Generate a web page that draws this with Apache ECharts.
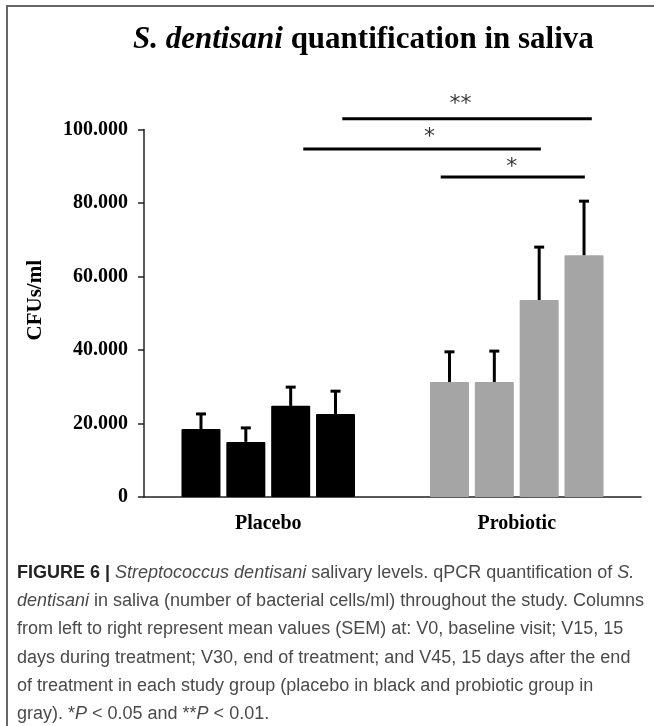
<!DOCTYPE html>
<html>
<head>
<meta charset="utf-8">
<script src="https://cdn.jsdelivr.net/npm/echarts@6/dist/echarts.min.js"></script>
<style>
  html, body { margin: 0; padding: 0; background: #fff; }
  #chart { width: 654px; height: 726px; }
</style>
</head>
<body>
<div id="chart"></div>
<script>
// data
const groups = ['Placebo', 'Probiotic'];
const visits = ['V0', 'V15', 'V30', 'V45'];
const placeboMean = [18500, 15000, 24800, 22600];
const placeboSem = [4100, 3800, 5100, 6200];
const probioticMean = [31300, 31300, 53600, 65800];
const probioticSem = [8200, 8400, 14400, 14700];
const yTicks = [0, 20000, 40000, 60000, 80000, 100000];

// significance brackets, x in category units (0..2), y in CFUs/ml
const sigLines = [
  { from: 0.798, to: 1.802, y: 102900 },
  { from: 0.641, to: 1.597, y: 94700 },
  { from: 1.194, to: 1.774, y: 87100 }
];
const sigStars = [
  { x: 1.274, y: 106900, text: '**' },
  { x: 1.149, y: 98000, text: '*' },
  { x: 1.480, y: 89800, text: '*' }
];

const captionLines = [
  '{b|FIGURE 6 |} {i|Streptococcus dentisani} salivary levels. qPCR quantification of {i|S.}',
  '{i|dentisani} in saliva (number of bacterial cells/ml) throughout the study. Columns',
  'from left to right represent mean values (SEM) at: V0, baseline visit; V15, 15',
  'days during treatment; V30, end of treatment; and V45, 15 days after the end',
  'of treatment in each study group (placebo in black and probiotic group in',
  'gray). *{i|P} < 0.05 and **{i|P} < 0.01.'
];

const myChart = echarts.init(document.getElementById('chart'));

const serif = '"Liberation Serif", "Times New Roman", serif';
const sans = '"Liberation Sans", Arial, sans-serif';
const barColors = ['#000000', '#a5a5a5'];

function fmt(v) {
  return String(v).replace(/\B(?=(\d{3})+(?!\d))/g, '.');
}

const series = [];
visits.forEach(function (v, i) {
  series.push({
    name: v,
    type: 'bar',
    barWidth: 39,
    barGap: '15%',
    data: [placeboMean[i], probioticMean[i]].map(function (val, g) {
      return { value: val, itemStyle: { color: barColors[g] } };
    }),
    itemStyle: { borderRadius: 1 },
    silent: true
  });
});

// error bars (upper only, with cap)
visits.forEach(function (v, i) {
  series.push({
    type: 'custom',
    name: v + ' SEM',
    data: [[0, placeboMean[i], placeboSem[i]], [1, probioticMean[i], probioticSem[i]]],
    z: 5,
    silent: true,
    renderItem: function (params, api) {
      const cat = api.value(0);
      const mean = api.value(1);
      const sem = api.value(2);
      const band = api.size([1, 0])[0];
      const layout = api.barLayout({ count: visits.length, barWidth: 39, barGap: '15%', bandWidth: band });
      const off = layout[i].offsetCenter;
      const p0 = api.coord([cat, mean]);
      const p1 = api.coord([cat, mean + sem]);
      const x = p0[0] + off;
      return {
        type: 'group',
        children: [
          { type: 'line', shape: { x1: x, y1: p0[1], x2: x, y2: p1[1] }, style: { stroke: '#000', lineWidth: 3 } },
          { type: 'line', shape: { x1: x - 5, y1: p1[1], x2: x + 5, y2: p1[1] }, style: { stroke: '#000', lineWidth: 3 } }
        ]
      };
    }
  });
});

sigLines.forEach(function (s) {
  series.push({
    type: 'line',
    xAxisIndex: 1,
    data: [[s.from, s.y], [s.to, s.y]],
    symbol: 'none',
    clip: false,
    silent: true,
    lineStyle: { color: '#000', width: 3 }
  });
});

series.push({
  type: 'scatter',
  xAxisIndex: 1,
  symbolSize: 0,
  clip: false,
  silent: true,
  data: sigStars.map(function (s) { return { value: [s.x, s.y], name: s.text }; }),
  label: {
    show: true,
    position: 'inside',
    formatter: '{b}',
    color: '#000',
    fontFamily: '"DejaVu Sans", sans-serif',
    fontSize: 22
  }
});

const graphics = [
  { type: 'line', shape: { x1: 7, y1: 6, x2: 7, y2: 726 }, style: { stroke: '#666', lineWidth: 2 } },
  { type: 'line', shape: { x1: 6, y1: 6, x2: 654, y2: 6 }, style: { stroke: '#666', lineWidth: 2 } },
  {
    type: 'text',
    x: 133, y: 40,
    style: {
      text: '{i|S. dentisani} quantification in saliva',
      font: 'bold 31px ' + serif,
      fill: '#000',
      textAlign: 'left',
      textVerticalAlign: 'middle',
      rich: {
        i: { fontStyle: 'italic', fontWeight: 'bold', fontSize: 31, fontFamily: serif, fill: '#000' }
      }
    }
  }
];

captionLines.forEach(function (line, k) {
  graphics.push({
    type: 'text',
    x: 17, y: 573 + k * 28.2,
    style: {
      text: line,
      font: '18px ' + sans,
      fill: '#4a4a4a',
      textAlign: 'left',
      textVerticalAlign: 'middle',
      rich: {
        b: { fontWeight: 'bold', fontSize: 18, fontFamily: sans, fill: '#222' },
        i: { fontStyle: 'italic', fontSize: 18, fontFamily: sans, fill: '#4a4a4a' }
      }
    }
  });
});

const option = {
  animation: false,
  backgroundColor: '#fff',
  grid: { left: 144, right: 13, top: 129.5, bottom: 229 },
  xAxis: [
    {
      type: 'category',
      data: groups,
      axisLine: { lineStyle: { color: '#222', width: 1.5 } },
      axisTick: { length: 6, lineStyle: { color: '#222', width: 1.5 } },
      axisLabel: { margin: 17, color: '#000', fontFamily: serif, fontWeight: 'bold', fontSize: 20 }
    },
    { type: 'value', min: 0, max: 2, show: false }
  ],
  yAxis: {
    type: 'value',
    min: 0,
    max: 100000,
    interval: 20000,
    name: 'CFUs/ml',
    nameLocation: 'middle',
    nameGap: 98,
    nameTextStyle: { color: '#000', fontFamily: serif, fontWeight: 'bold', fontSize: 21, padding: [0, 0, 0, 26] },
    axisLine: { show: true, lineStyle: { color: '#222', width: 1.5 } },
    axisTick: { show: true, length: 6, lineStyle: { color: '#222', width: 1.5 } },
    splitLine: { show: false },
    axisLabel: {
      margin: 16,
      color: '#000',
      fontFamily: serif,
      fontWeight: 'bold',
      fontSize: 20,
      formatter: function (v) { return yTicks.indexOf(v) >= 0 ? fmt(v) : ''; }
    }
  },
  graphic: graphics,
  series: series
};

option && myChart.setOption(option);
</script>
</body>
</html>
